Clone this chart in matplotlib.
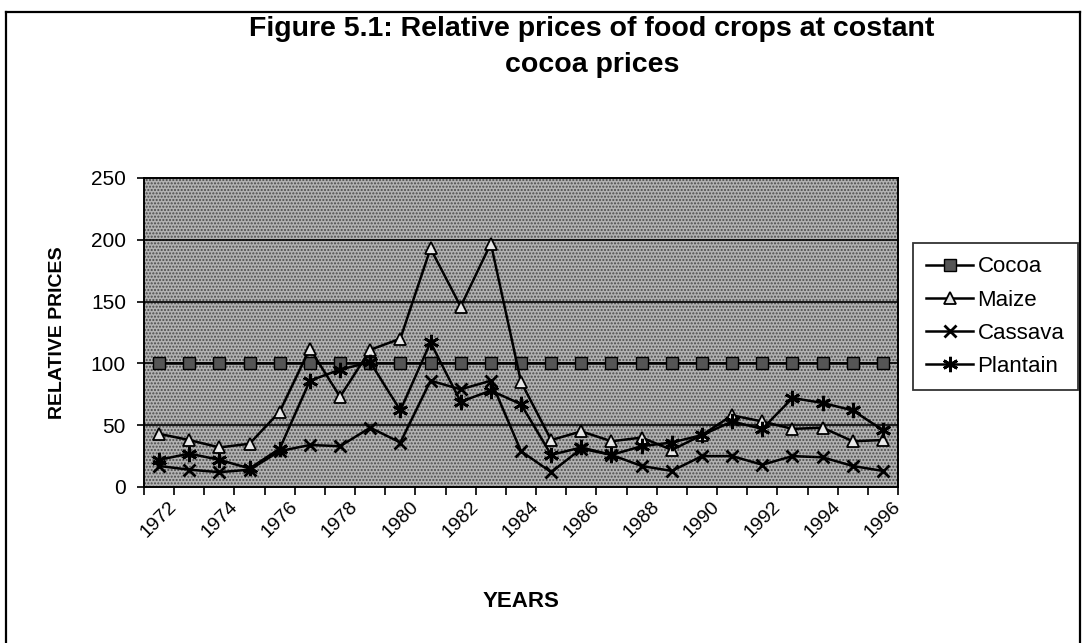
import matplotlib.pyplot as plt
import numpy as np
from matplotlib.lines import Line2D
from matplotlib.patches import Rectangle

plt.rcParams['font.family'] = ['Liberation Sans', 'DejaVu Sans']

YEARS = [1972, 1973, 1974, 1975, 1976, 1977, 1978, 1979, 1980, 1981, 1982, 1983,
         1984, 1985, 1986, 1987, 1988, 1989, 1990, 1991, 1992, 1993, 1994, 1995, 1996]

COCOA = [100, 100, 100, 100, 100, 100, 100, 100, 100, 100, 100, 100,
         100, 100, 100, 100, 100, 100, 100, 100, 100, 100, 100, 100, 100]
MAIZE = [43, 38, 32, 35, 61, 112, 73, 111, 120, 193, 146, 197,
         85, 38, 45, 37, 40, 30, 42, 58, 53, 47, 48, 37, 38]
CASSAVA = [17, 14, 12, 14, 29, 34, 33, 48, 36, 86, 79, 86,
           29, 12, 31, 26, 17, 13, 25, 25, 18, 25, 24, 17, 13]
PLANTAIN = [22, 27, 22, 15, 31, 86, 95, 101, 62, 117, 69, 78,
            67, 26, 32, 26, 33, 36, 42, 53, 47, 72, 68, 62, 46]

YTICKS = [0, 50, 100, 150, 200, 250]

W, H = 1086, 643
fig = plt.figure(figsize=(W / 100, H / 100), dpi=100)

# outer chart frame (left, top, right)
for xs, ys in [([6, 6], [12, 643]), ([6, 1080], [12, 12]), ([1080, 1080], [12, 643])]:
    fig.add_artist(Line2D([v / W for v in xs], [1 - v / H for v in ys],
                          color='black', lw=1.6))

ax = fig.add_axes([144 / W, 1 - 487 / H, 754 / W, 309 / H])

x = np.arange(len(YEARS))
ax.set_xlim(-0.5, len(YEARS) - 0.5)
ax.set_ylim(0, 250)

# dotted grey plot area
ax.set_facecolor('#b2b2b2')
ax.add_patch(Rectangle((0, 0), 1, 1, transform=ax.transAxes, facecolor='none',
                       edgecolor='#4a4a4a', hatch='.....', lw=0, zorder=0))

for v in YTICKS[1:-1]:
    ax.axhline(v, color='black', lw=1.2, zorder=1)

ax.plot(x, COCOA, color='black', lw=1.8, marker='s', ms=8, mfc='#555555',
        mec='black', mew=1.0, label='Cocoa', zorder=3)
ax.plot(x, MAIZE, color='black', lw=1.8, marker='^', ms=9, mfc='#e8e8e8',
        mec='black', mew=1.3, label='Maize', zorder=3)
ax.plot(x, CASSAVA, color='black', lw=1.8, marker='x', ms=9, mew=2.0,
        label='Cassava', zorder=3)
ax.plot(x, PLANTAIN, color='black', lw=1.8, marker=(6, 2, 0), ms=11, mew=2.0,
        label='Plantain', zorder=3)

for s in ax.spines.values():
    s.set_linewidth(1.4)
    s.set_zorder(4)

ax.set_yticks(YTICKS)
ax.set_yticklabels([str(v) for v in YTICKS], fontsize=15)
ax.tick_params(axis='y', length=5, width=1.2, pad=8)

ax.set_xticks(x[::2])
ax.set_xticklabels([str(y) for y in YEARS[::2]], rotation=45, ha='center',
                   fontsize=14)
ax.set_xticks(np.arange(-0.5, len(YEARS)), minor=True)
ax.tick_params(axis='x', which='major', length=0, pad=8)
ax.tick_params(axis='x', which='minor', length=6, width=1.2)

ax.set_ylabel('RELATIVE PRICES', fontsize=14, fontweight='bold', labelpad=18)
ax.set_xlabel('YEARS', fontsize=16, fontweight='bold', labelpad=36)

fig.text(592 / W, 1 - 47 / H, 'Figure 5.1: Relative prices of food crops at costant\ncocoa prices',
         ha='center', va='center', fontsize=20.5, fontweight='bold', linespacing=1.5)

leg = fig.legend(loc='upper left', bbox_to_anchor=(913 / W, 1 - 243 / H),
                 fontsize=16, frameon=True, fancybox=False, edgecolor='black',
                 handlelength=2.1, labelspacing=0.55, borderpad=0.6,
                 handletextpad=0.2, borderaxespad=0)
leg.get_frame().set_linewidth(1.3)

fig.savefig('out.png', dpi=100)
